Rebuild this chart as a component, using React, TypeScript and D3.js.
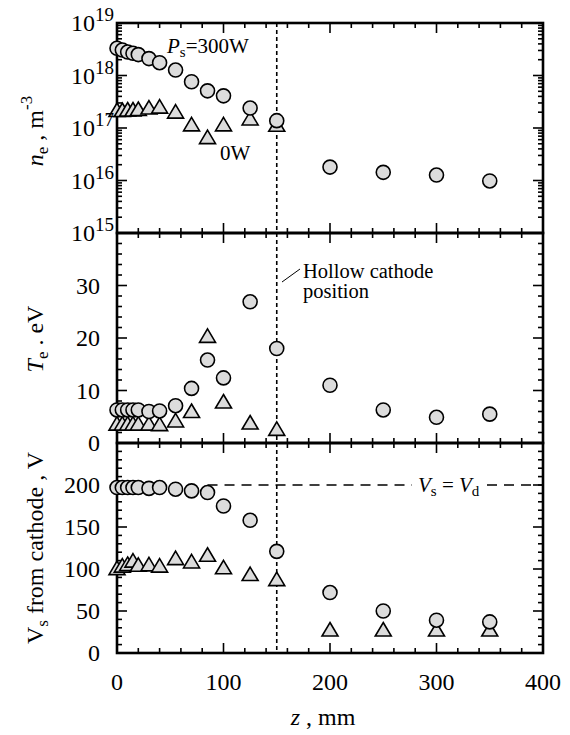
import React from "react";
import * as d3 from "d3";

// ---- data ----
const zAll = [0, 5, 10, 15, 20, 30, 40, 55, 70, 85, 100, 125, 150, 200, 250, 300, 350];
const zIn = [0, 5, 10, 15, 20, 30, 40, 55, 70, 85, 100, 125, 150];

const ne300 = [3.3e18, 3.05e18, 2.8e18, 2.65e18, 2.5e18, 2.1e18, 1.75e18, 1.27e18, 7.6e17, 5.1e17, 4.1e17, 2.4e17, 1.38e17, 1.8e16, 1.43e16, 1.27e16, 9.8e15];
const ne0 = [2.2e17, 2.2e17, 2.25e17, 2.25e17, 2.3e17, 2.45e17, 2.55e17, 2.05e17, 1.17e17, 6.7e16, 1.17e17, 1.52e17, 1.15e17];

const te300 = [6.3, 6.3, 6.3, 6.3, 6.3, 6.0, 6.1, 7.1, 10.4, 15.8, 12.4, 26.9, 18.0, 11.0, 6.3, 4.9, 5.5];
const te0 = [3.7, 3.7, 3.7, 3.7, 3.7, 3.7, 3.6, 4.3, 6.1, 20.4, 7.9, 3.9, 2.7];

const vs300 = [197, 197, 197, 197, 197, 196, 197, 195, 193, 191, 175, 158, 121, 72, 50, 39, 37];
const vs0 = [101, 104, 106, 110, 105, 105.5, 104, 113, 109, 117, 102, 94, 88, 28, 28, 28, 28];

const xTickLabels = [0, 100, 200, 300, 400];
const neTickExp = [15, 16, 17, 18, 19];
const teTickLabels = [0, 10, 20, 30];
const vsTickLabels = [0, 50, 100, 150, 200];

const hollowZ = 150;
const vdLevel = 200;

const FONT = "'Times New Roman', 'Liberation Serif', 'DejaVu Serif', serif";
const FILL = "#dcdcdc";

const X0 = 117, X1 = 543;

function Tri({ cx, cy }: { cx: number; cy: number }) {
  return (
    <path
      d={`M${cx},${cy - 7} L${cx + 8},${cy + 6.5} L${cx - 8},${cy + 6.5} Z`}
      fill={FILL}
      stroke="#000"
      strokeWidth={1.6}
    />
  );
}

function Circ({ cx, cy }: { cx: number; cy: number }) {
  return <circle cx={cx} cy={cy} r={7} fill={FILL} stroke="#000" strokeWidth={1.6} />;
}

function Frame({
  yt,
  yb,
  majorY,
  minorY,
  x,
}: {
  yt: number;
  yb: number;
  majorY: number[];
  minorY: number[];
  x: d3.ScaleLinear<number, number>;
}) {
  const xMinor = d3.range(0, 401, 20);
  const xMajor = [0, 100, 200, 300, 400];
  const lines: React.ReactNode[] = [];
  xMinor.forEach((v, i) => {
    const len = xMajor.includes(v) ? 10 : 5;
    const px = x(v);
    lines.push(<line key={`xt${i}`} x1={px} x2={px} y1={yt} y2={yt + len} />);
    lines.push(<line key={`xb${i}`} x1={px} x2={px} y1={yb} y2={yb - len} />);
  });
  majorY.forEach((py, i) => {
    lines.push(<line key={`yl${i}`} x1={X0} x2={X0 + 10} y1={py} y2={py} />);
    lines.push(<line key={`yr${i}`} x1={X1} x2={X1 - 10} y1={py} y2={py} />);
  });
  minorY.forEach((py, i) => {
    lines.push(<line key={`ml${i}`} x1={X0} x2={X0 + 5} y1={py} y2={py} />);
    lines.push(<line key={`mr${i}`} x1={X1} x2={X1 - 5} y1={py} y2={py} />);
  });
  return (
    <g>
      <g stroke="#000" strokeWidth={1.6}>{lines}</g>
      <rect x={X0} y={yt} width={X1 - X0} height={yb - yt} fill="none" stroke="#000" strokeWidth={2.6} />
    </g>
  );
}

export default function App() {
  const x = d3.scaleLinear().domain([0, 400]).range([X0, X1]);
  const yNe = d3.scaleLog().domain([1e15, 1e19]).range([233, 23]);
  const yTe = d3.scaleLinear().domain([0, 40]).range([443, 233]);
  const yVs = d3.scaleLinear().domain([0, 250]).range([653, 443]);

  const neAll = yNe.ticks();
  const neMajor = neTickExp.map((e) => yNe(Math.pow(10, e)));
  const neMinor = neAll
    .filter((v) => Math.abs(Math.log10(v) - Math.round(Math.log10(v))) > 1e-6)
    .map((v) => yNe(v));

  const teMajor = d3.range(0, 41, 10).map((v) => yTe(v));
  const teMinor = d3.range(0, 41, 2).filter((v) => v % 10 !== 0).map((v) => yTe(v));
  const vsMajor = d3.range(0, 251, 50).map((v) => yVs(v));
  const vsMinor = d3.range(0, 251, 10).filter((v) => v % 50 !== 0).map((v) => yVs(v));

  const xh = x(hollowZ);
  const txt = { fontFamily: FONT };

  return (
    <svg
      width={570}
      height={735}
      style={{ position: "absolute", left: 0, top: 0, background: "#fff", fontFamily: FONT }}
    >
      <rect x={0} y={0} width={570} height={735} fill="#fff" />

      {/* Vs = Vd dashed line */}
      <g stroke="#000" strokeWidth={1.5} strokeDasharray="10,7">
        <line x1={x(85)} x2={412} y1={yVs(vdLevel)} y2={yVs(vdLevel)} />
        <line x1={487} x2={X1} y1={yVs(vdLevel)} y2={yVs(vdLevel)} />
      </g>

      {/* hollow cathode position */}
      <line x1={xh} x2={xh} y1={23} y2={653} stroke="#000" strokeWidth={1.6} strokeDasharray="4,3" />
      <line x1={282} y1={282} x2={300} y2={269} stroke="#000" strokeWidth={1} />

      {/* frames */}
      <Frame yt={23} yb={233} majorY={neMajor} minorY={neMinor} x={x} />
      <Frame yt={233} yb={443} majorY={teMajor} minorY={teMinor} x={x} />
      <Frame yt={443} yb={653} majorY={vsMajor} minorY={vsMinor} x={x} />

      {/* top panel markers */}
      {zIn.map((z, i) => (
        <Tri key={`nt${i}`} cx={x(z)} cy={yNe(ne0[i])} />
      ))}
      {zAll.map((z, i) => (
        <Circ key={`nc${i}`} cx={x(z)} cy={yNe(ne300[i])} />
      ))}

      {/* middle panel markers */}
      {zIn.map((z, i) => (
        <Tri key={`tt${i}`} cx={x(z)} cy={yTe(te0[i])} />
      ))}
      {zAll.map((z, i) => (
        <Circ key={`tc${i}`} cx={x(z)} cy={yTe(te300[i])} />
      ))}

      {/* bottom panel markers */}
      {zAll.map((z, i) => (
        <Tri key={`vt${i}`} cx={x(z)} cy={yVs(vs0[i])} />
      ))}
      {zAll.map((z, i) => (
        <Circ key={`vc${i}`} cx={x(z)} cy={yVs(vs300[i])} />
      ))}

      {/* tick labels */}
      <g fontSize={24} fill="#000" style={txt}>
        {xTickLabels.map((v) => (
          <text key={`xl${v}`} x={x(v)} y={690} textAnchor="middle" style={txt}>
            {v}
          </text>
        ))}
        {neTickExp.map((e) => (
          <text key={`nl${e}`} x={114} y={yNe(Math.pow(10, e)) + 8} textAnchor="end" style={txt}>
            10
            <tspan dy={-10} fontSize={19}>
              {e}
            </tspan>
          </text>
        ))}
        {teTickLabels.map((v) => (
          <text key={`tl${v}`} x={100} y={yTe(v) + 8} textAnchor="end" style={txt}>
            {v}
          </text>
        ))}
        {vsTickLabels.map((v) => (
          <text key={`vl${v}`} x={100} y={yVs(v) + 8} textAnchor="end" style={txt}>
            {v}
          </text>
        ))}
      </g>

      {/* axis titles */}
      <g fontSize={24} fill="#000" style={txt}>
        <text transform="translate(43,131) rotate(-90)" textAnchor="middle" style={txt}>
          <tspan fontStyle="italic">n</tspan>
          <tspan dy={5} fontSize={17}>e</tspan>
          <tspan dy={-5}> , m</tspan>
          <tspan dy={-11} fontSize={17}>-3</tspan>
        </text>
        <text transform="translate(43,339) rotate(-90)" textAnchor="middle" style={txt}>
          <tspan fontStyle="italic">T</tspan>
          <tspan dy={5} fontSize={17}>e</tspan>
          <tspan dy={-5}> . eV</tspan>
        </text>
        <text transform="translate(43,548) rotate(-90)" textAnchor="middle" style={txt}>
          <tspan>V</tspan>
          <tspan dy={5} fontSize={17}>s</tspan>
          <tspan dy={-5}> from cathode , V</tspan>
        </text>
        <text x={323} y={725} textAnchor="middle" style={txt}>
          <tspan fontStyle="italic">z</tspan>
          <tspan> , mm</tspan>
        </text>
      </g>

      {/* annotations */}
      <g fontSize={21} fill="#000" style={txt}>
        <text x={167} y={53} style={txt}>
          <tspan fontStyle="italic">P</tspan>
          <tspan dy={4} fontSize={15}>s</tspan>
          <tspan dy={-4}>=300W</tspan>
        </text>
        <text x={220} y={160} style={txt}>0W</text>
        <text x={303} y={278} fontSize={20.5} style={txt}>
          <tspan x={303}>Hollow cathode</tspan>
          <tspan x={303} dy={20}>position</tspan>
        </text>
        <text x={418} y={492} style={txt}>
          <tspan fontStyle="italic">V</tspan>
          <tspan dy={4} fontSize={15}>s</tspan>
          <tspan dy={-4}> = </tspan>
          <tspan fontStyle="italic">V</tspan>
          <tspan dy={4} fontSize={15}>d</tspan>
        </text>
      </g>
    </svg>
  );
}
